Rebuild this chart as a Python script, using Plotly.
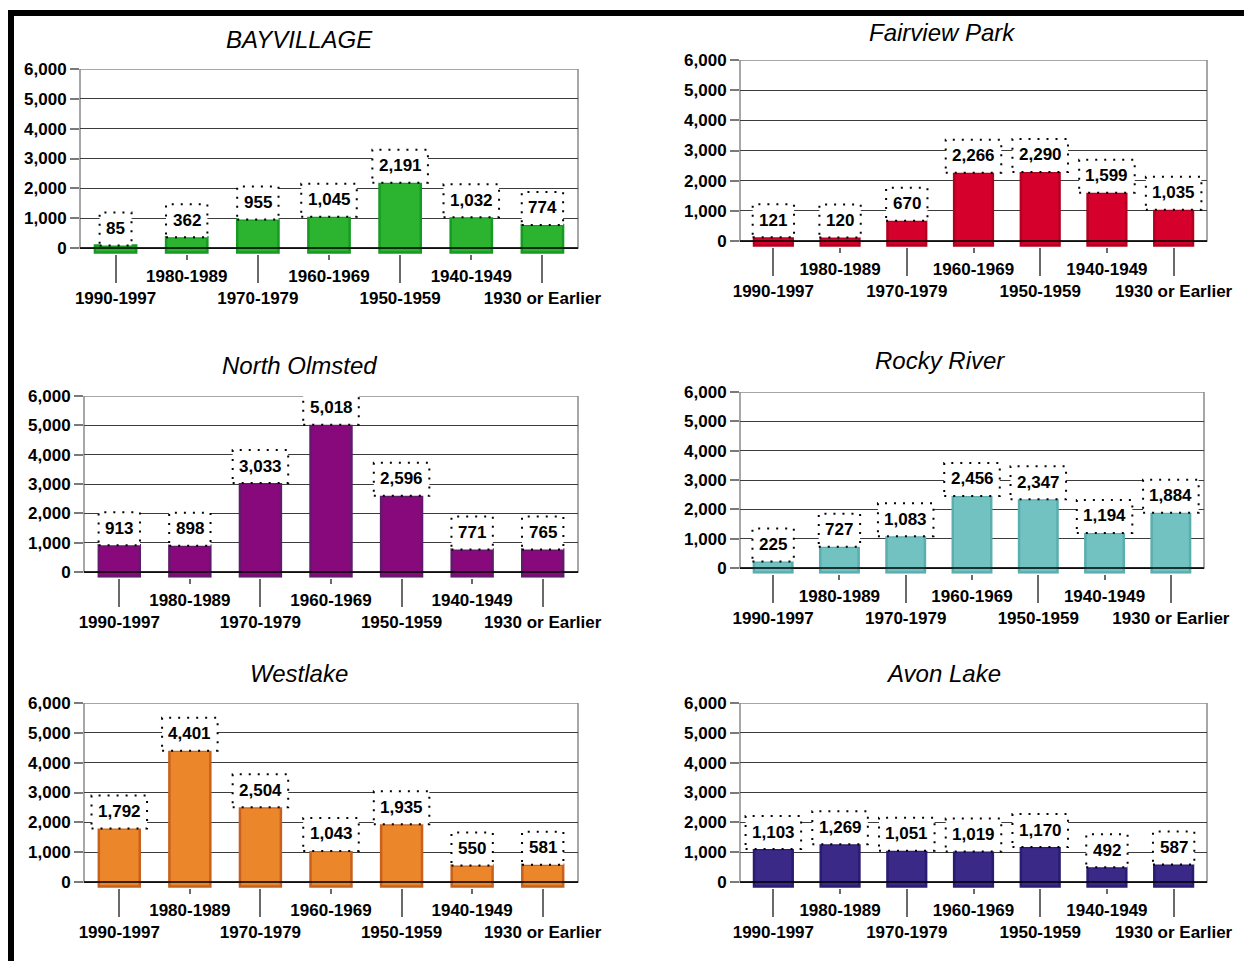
import plotly.graph_objects as go

W, H = 1244, 961

categories = ["1990-1997", "1980-1989", "1970-1979", "1960-1969",
              "1950-1959", "1940-1949", "1930 or Earlier"]

bay_village = [85, 362, 955, 1045, 2191, 1032, 774]
fairview_park = [121, 120, 670, 2266, 2290, 1599, 1035]
north_olmsted = [913, 898, 3033, 5018, 2596, 771, 765]
rocky_river = [225, 727, 1083, 2456, 2347, 1194, 1884]
westlake = [1792, 4401, 2504, 1043, 1935, 550, 581]
avon_lake = [1103, 1269, 1051, 1019, 1170, 492, 587]

titles = ["BAYVILLAGE", "Fairview Park", "North Olmsted",
          "Rocky River", "Westlake", "Avon Lake"]
series = [bay_village, fairview_park, north_olmsted,
          rocky_river, westlake, avon_lake]

fills = ["#2cb431", "#d5002b", "#88097c", "#72c2c2", "#eb862b", "#3a2987"]
edges = ["#179a24", "#b30020", "#611a6c", "#5aaeae", "#c8611d", "#2a1c70"]

y_ticks = [0, 1000, 2000, 3000, 4000, 5000, 6000]

# panel frames in pixels: left, right, top (6,000 line), zero line, title x, title y
panels = [
    (80, 578, 69, 248, 299, 39),
    (740, 1207, 60, 241, 942, 33),
    (84, 578, 396, 572, 299, 365),
    (740, 1204, 392, 568, 940, 361),
    (84, 578, 703, 882, 299, 673),
    (740, 1207, 703, 882, 943, 673),
]

Y_LOW = -200     # room below zero for the bar feet
FOOT = -150      # bars start slightly below the zero line
FONT = "Liberation Sans, Arial, sans-serif"


def px(x):
    return min(max(x / W, 0.0), 1.0)


def py(y):
    return min(max(1 - y / H, 0.0), 1.0)


def ref(letter, k):
    return letter if k == 1 else f"{letter}{k}"


def axis_key(letter, k):
    return f"{letter}axis" if k == 1 else f"{letter}axis{k}"


def text_width(s, size=17):
    w = 0.0
    for ch in s:
        if ch.isdigit():
            w += 0.556
        elif ch in ",. ":
            w += 0.278
        elif ch == "-":
            w += 0.333
        else:
            w += 0.58
    return w * size


fig = go.Figure()
layout = dict(
    width=W, height=H, autosize=False,
    margin=dict(l=0, r=0, t=0, b=0, pad=0),
    paper_bgcolor="white", plot_bgcolor="white", showlegend=False,
    barmode="overlay",
)
shapes = []
annotations = []

n = len(categories)
idx = list(range(n))
even = [i for i in idx if i % 2 == 0]
odd = [i for i in idx if i % 2 == 1]
tick_font = dict(family=FONT, size=17, color="black", weight="bold")

for k, (vals, title, (L, R, T, Z, tx, ty)) in enumerate(zip(series, titles, panels), start=1):
    ppu = (Z - T) / 6000.0
    B = Z + (0 - Y_LOW) * ppu
    xr = ref("x", k)
    xo = ref("x", k + 6)
    yr = ref("y", k)

    # keep the last category label inside the page edge
    step = (R - L) / n
    labels = list(categories)
    last_right = L + step * (n - 0.5) + text_width(labels[-1]) / 2
    overflow = last_right - (W - 2)
    if overflow > 0:
        labels[-1] = labels[-1] + "\u00a0" * int(round(2 * overflow / 4.7))

    layout[axis_key("y", k)] = dict(
        domain=[py(B), py(T)], range=[Y_LOW, 6000], anchor=xr,
        tickvals=y_ticks, tickformat=",d", automargin=False,
        showgrid=True, gridcolor="#3c3c3c", gridwidth=1, zeroline=False,
        showline=False, ticks="outside", ticklen=9, tickcolor="#7a7a7a",
        tickwidth=1.5, tickfont=tick_font, fixedrange=True,
    )
    # lower row of category labels (long ticks)
    layout[axis_key("x", k)] = dict(
        domain=[px(L), px(R)], range=[-0.5, n - 0.5], anchor=yr,
        tickvals=even, ticktext=[labels[i] for i in even], automargin=False,
        ticks="outside", ticklen=28, tickcolor="#6a6a6a", tickwidth=1.5,
        ticklabelstandoff=1,
        showgrid=False, zeroline=False, showline=False,
        tickfont=tick_font, fixedrange=True,
    )
    # upper row of category labels (short ticks)
    layout[axis_key("x", k + 6)] = dict(
        domain=[px(L), px(R)], range=[-0.5, n - 0.5], anchor=yr,
        overlaying=xr, side="bottom", automargin=False,
        tickvals=odd, ticktext=[labels[i] for i in odd],
        ticks="outside", ticklen=5, tickcolor="#6a6a6a", tickwidth=1.5,
        ticklabelstandoff=2,
        showgrid=False, zeroline=False, showline=False,
        tickfont=tick_font, fixedrange=True,
    )

    for group, xref_name in ((even, xr), (odd, xo)):
        fig.add_trace(go.Bar(
            x=group, y=[vals[i] - FOOT for i in group], base=FOOT,
            xaxis=xref_name, yaxis=yr, width=0.58,
            marker=dict(color=fills[k - 1],
                        line=dict(color=edges[k - 1], width=2.5)),
            hoverinfo="skip",
        ))

    # plot frame and zero line
    shapes.append(dict(type="rect", xref=f"{xr} domain", yref=yr,
                       x0=0, x1=1, y0=0, y1=6000,
                       line=dict(color="#8a8a8a", width=1.5), layer="below"))
    shapes.append(dict(type="line", xref=f"{xr} domain", yref=yr,
                       x0=0, x1=1, y0=0, y1=0,
                       line=dict(color="black", width=1.5), layer="above"))

    # value labels in dotted boxes
    for i, v in enumerate(vals):
        text = f"{v:,}"
        w = text_width(text) + 13
        shapes.append(dict(
            type="rect", xref=xr, yref=yr,
            xsizemode="pixel", ysizemode="pixel", xanchor=i, yanchor=v,
            x0=-w / 2, x1=w / 2, y0=0, y1=33,
            fillcolor="white",
            line=dict(color="black", width=2, dash="2px,7px"),
            layer="above",
        ))
        annotations.append(dict(
            x=i, y=v, xref=xr, yref=yr, text=text, showarrow=False,
            yanchor="middle", yshift=17,
            font=dict(family=FONT, size=17, color="black", weight="bold"),
        ))

    annotations.append(dict(
        x=px(tx), y=py(ty), xref="paper", yref="paper", text=title,
        showarrow=False, xanchor="center", yanchor="middle",
        font=dict(family="Liberation Sans Narrow, Liberation Sans, Arial",
                  size=24, color="black", style="italic"),
    ))

# page border (top and left rules)
shapes.append(dict(type="line", xref="paper", yref="paper",
                   x0=px(8), x1=1, y0=py(13), y1=py(13),
                   line=dict(color="black", width=6)))
shapes.append(dict(type="line", xref="paper", yref="paper",
                   x0=px(11), x1=px(11), y0=py(10), y1=0,
                   line=dict(color="black", width=6)))

layout["shapes"] = shapes
layout["annotations"] = annotations
fig.update_layout(**layout)

fig.write_html("out.html")
